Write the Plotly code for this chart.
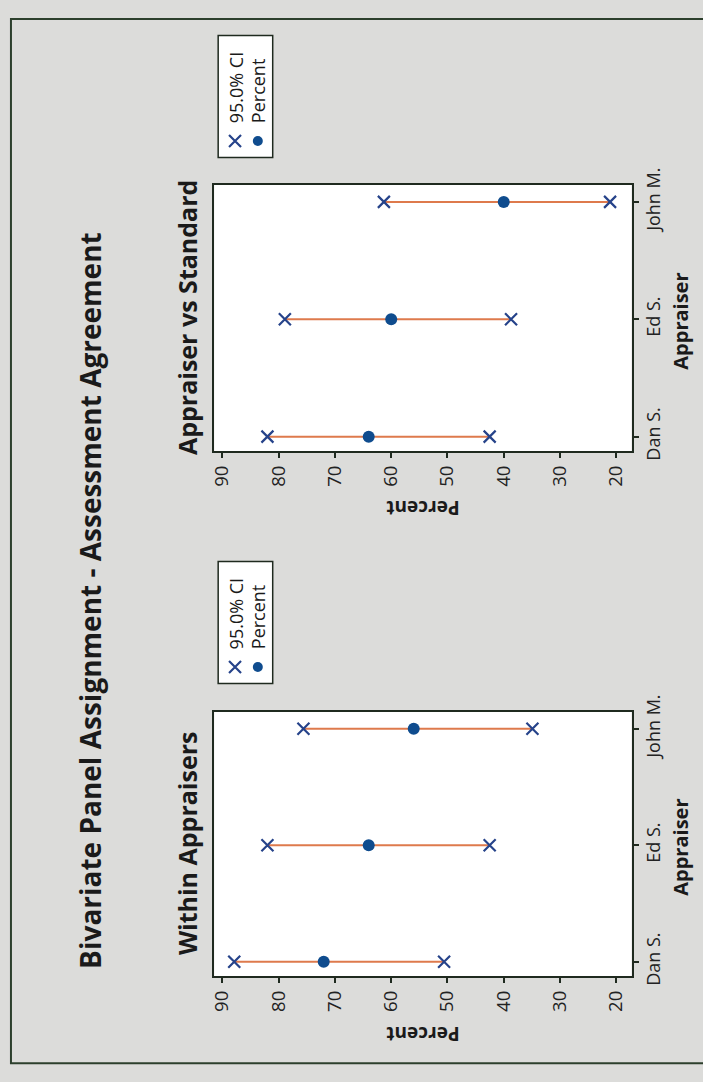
import plotly.graph_objects as go

# Attribute agreement results (percent matched, with 95% confidence bounds)
appraisers = ["Dan S.", "Ed S.", "John M."]

within_pct = [72.0, 64.0, 56.0]
within_lo = [50.6, 42.5, 34.9]
within_hi = [87.9, 82.0, 75.6]

standard_pct = [64.0, 60.0, 40.0]
standard_lo = [42.5, 38.7, 21.1]
standard_hi = [82.0, 78.9, 61.3]

percent_ticks = [90, 80, 70, 60, 50, 40, 30, 20]

W, H = 703, 1082
BG = "#DCDCDA"
FRAME = "#1F2A1F"
NAVY = "#26438A"
DOT = "#0F4C8E"
CI_LINE = "#DE7A4C"
FONT = "Open Sans"


def px_x(p):
    return p / W


def px_y(p):
    return 1 - p / H


def ci_traces(lo, hi, pct, xa, ya):
    seg_x, seg_y = [], []
    for i in range(len(appraisers)):
        seg_x += [hi[i], lo[i], None]
        seg_y += [i, i, None]
    idx = list(range(len(appraisers)))
    return [
        go.Scatter(x=seg_x, y=seg_y, mode="lines", xaxis=xa, yaxis=ya,
                   line=dict(color=CI_LINE, width=2), hoverinfo="skip",
                   showlegend=False),
        go.Scatter(x=hi + lo, y=idx + idx, mode="markers", xaxis=xa, yaxis=ya,
                   marker=dict(symbol="x-thin", size=12,
                               line=dict(color=NAVY, width=2.2)),
                   showlegend=False),
        go.Scatter(x=pct, y=idx, mode="markers", xaxis=xa, yaxis=ya,
                   marker=dict(symbol="circle", size=12, color=DOT),
                   showlegend=False),
    ]


fig = go.Figure()
for t in ci_traces(within_lo, within_hi, within_pct, "x", "y"):
    fig.add_trace(t)
for t in ci_traces(standard_lo, standard_hi, standard_pct, "x2", "y2"):
    fig.add_trace(t)

# Legend swatches, drawn on a pixel-space axis pair covering the figure
for x_col, y_top in [(231, 19), (231, 558)]:
    fig.add_trace(go.Scatter(x=[x_col], y=[y_top + 108], mode="markers",
                             xaxis="x3", yaxis="y3", showlegend=False,
                             marker=dict(symbol="x-thin", size=12,
                                         line=dict(color=NAVY, width=2.2))))
    fig.add_trace(go.Scatter(x=[x_col + 23], y=[y_top + 108], mode="markers",
                             xaxis="x3", yaxis="y3", showlegend=False,
                             marker=dict(symbol="circle", size=10, color=DOT)))

x_dom = [px_x(210), px_x(631)]
x_range = [91.46, 17.27]
y_range = [-0.125, 2.145]

pct_axis = dict(
    domain=x_dom, range=x_range, tickvals=percent_ticks,
    ticktext=[str(v) for v in percent_ticks], tickangle=-90,
    ticks="outside", ticklen=5, tickwidth=1.5, tickcolor=FRAME,
    showline=True, linecolor=FRAME, linewidth=2, mirror=True,
    showgrid=False, zeroline=False,
    tickfont=dict(family=FONT, size=18.5, color="#222"),
)
cat_axis = dict(
    range=y_range, tickvals=[0, 1, 2], ticktext=appraisers, tickangle=-90,
    side="right", ticks="outside", ticklen=5, tickwidth=1.5, tickcolor=FRAME,
    showline=True, linecolor=FRAME, linewidth=2, mirror=True,
    showgrid=False, zeroline=False,
    tickfont=dict(family=FONT, size=18, color="#222"),
)

fig.update_layout(
    width=W, height=H,
    margin=dict(l=0, r=0, t=0, b=0),
    paper_bgcolor=BG, plot_bgcolor="rgba(0,0,0,0)",
    showlegend=False,
    xaxis=dict(pct_axis, anchor="y"),
    yaxis=dict(cat_axis, anchor="x", domain=[px_y(983), px_y(712)]),
    xaxis2=dict(pct_axis, anchor="y2"),
    yaxis2=dict(cat_axis, anchor="x2", domain=[px_y(445), px_y(172)]),
    xaxis3=dict(domain=[0, 1], range=[0, W], visible=False, fixedrange=True,
                anchor="y3"),
    yaxis3=dict(domain=[0, 1], range=[H, 0], visible=False, fixedrange=True,
                anchor="x3"),
)


def paper_rect(x0, y0, x1, y1, **kw):
    return dict(type="rect", xref="paper", yref="paper",
                x0=px_x(x0), x1=px_x(x1), y0=px_y(y1), y1=px_y(y0),
                layer="below", **kw)


shapes = [
    # outer border of the graph region
    paper_rect(5, 2, 712, 1072, line=dict(color="#2C3F2C", width=2),
               fillcolor="rgba(0,0,0,0)"),
]
# white data regions
for top, bottom in ((172, 445), (712, 983)):
    shapes.append(paper_rect(210, top, 631, bottom, line=dict(width=0),
                             fillcolor="white"))
# legend boxes
for y_top in (19, 558):
    shapes.append(paper_rect(214, y_top, 269, y_top + 125,
                             line=dict(color=FRAME, width=1.5),
                             fillcolor="white"))
fig.update_layout(shapes=shapes)

ann = []


def text(x, y, s, size, bold=False, angle=-90, xanchor="center",
         yanchor="middle", color="#1a1a1a"):
    ann.append(dict(x=x, y=y, xref="x3", yref="y3",
                    text=(f"<b>{s}</b>" if bold else s),
                    showarrow=False, textangle=angle, xanchor=xanchor,
                    yanchor=yanchor, font=dict(family=FONT, size=size, color=color)))


text(84, 598, "Bivariate Panel Assignment - Assessment Agreement", 28, bold=True)
text(182, 846, "Within Appraisers", 25, bold=True)
text(182, 308, "Appraiser vs Standard", 25, bold=True)
text(420, 1042, "Percent", 19, bold=True, angle=180)
text(420, 503, "Percent", 19, bold=True, angle=180)
text(680, 851, "Appraiser", 20, bold=True)
text(680, 312, "Appraiser", 20, bold=True)
for y_top in (19, 558):
    text(232, y_top + 92, "95.0% CI", 18, yanchor="bottom")
    text(255, y_top + 92, "Percent", 18, yanchor="bottom")
fig.update_layout(annotations=ann)

fig.write_html("out.html")
